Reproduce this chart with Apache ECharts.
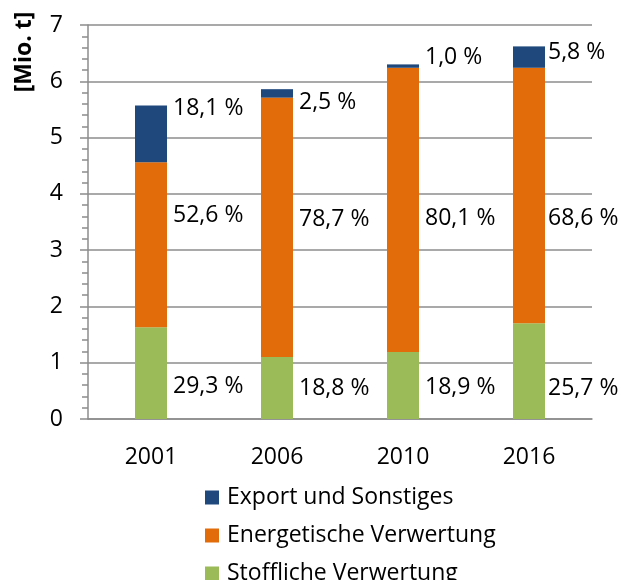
<!DOCTYPE html>
<html>
<head>
<meta charset="utf-8">
<script src="https://cdn.jsdelivr.net/npm/echarts@6/dist/echarts.min.js"></script>
<style>
  html, body { margin: 0; padding: 0; background: #fff; }
  #chart { width: 622px; height: 580px; }
</style>
</head>
<body>
<div id="chart"></div>
<script>
const jahre = ['2001', '2006', '2010', '2016']

// Mio. t
const stofflich = [1.63, 1.10, 1.19, 1.70]
const energetisch = [2.93, 4.61, 5.05, 4.54]
const export_ = [1.01, 0.15, 0.06, 0.38]

const pctStofflich = ['29,3 %', '18,8 %', '18,9 %', '25,7 %']
const pctEnergetisch = ['52,6 %', '78,7 %', '80,1 %', '68,6 %']
const pctExport = ['18,1 %', '2,5 %', '1,0 %', '5,8 %']

// Verschiebung der Beschriftungen (px)
const shiftX = [0, 0, 0, -3]
const shiftStofflich = [13, 0, 2, 17]
const shiftEnergetisch = [-29, -8, 9, 23]
const shiftExport = [-25, 9, -9, -5]

const schrift = '"Open Sans", sans-serif'
const grau = '#8c8c8c'

function serie(name, werte, pct, shift, farbe) {
    return {
        name: name,
        type: 'bar',
        stack: 'gesamt',
        barWidth: 32,
        itemStyle: { color: farbe },
        label: {
            show: true,
            position: 'right',
            distance: 6,
            fontFamily: schrift,
            fontSize: 23,
            color: '#000',
            formatter: (p) => pct[p.dataIndex]
        },
        data: werte.map((v, i) => ({ value: v, label: { offset: [shiftX[i], shift[i]] } }))
    }
}

const option = {
    animation: false,
    textStyle: { fontFamily: schrift },
    grid: { left: 88, right: 30, top: 25, bottom: 161 },
    legend: {
        orient: 'vertical',
        left: 200,
        top: 481,
        height: 140,
        itemWidth: 14,
        itemHeight: 14,
        itemGap: 15,
        icon: 'rect',
        textStyle: { fontFamily: schrift, fontSize: 23, color: '#000', padding: [0, 0, 0, 3] },
        data: ['Export und Sonstiges', 'Energetische Verwertung', 'Stoffliche Verwertung']
    },
    graphic: [{
        type: 'text',
        x: 24,
        y: 52,
        rotation: Math.PI / 2,
        style: {
            text: '[Mio. t]',
            fontFamily: schrift,
            fontWeight: 'bold',
            fontSize: 23,
            fill: '#000',
            align: 'center',
            verticalAlign: 'middle'
        }
    }],
    xAxis: {
        type: 'category',
        data: jahre,
        axisLine: { lineStyle: { color: grau, width: 1.5 } },
        axisTick: { show: false },
        axisLabel: { fontFamily: schrift, fontSize: 23, color: '#000', margin: 27 }
    },
    yAxis: {
        type: 'value',
        min: 0,
        max: 7,
        interval: 1,
        axisLine: { show: true, lineStyle: { color: grau, width: 1.5 } },
        axisTick: { show: true, length: 8, lineStyle: { color: grau, width: 1.5 } },
        minorTick: { show: true, splitNumber: 5, length: 6, lineStyle: { color: grau, width: 1.5 } },
        splitLine: { lineStyle: { color: grau, width: 1.5 } },
        axisLabel: { fontFamily: schrift, fontSize: 23, color: '#000', margin: 25 }
    },
    series: [
        serie('Stoffliche Verwertung', stofflich, pctStofflich, shiftStofflich, '#9BBB59'),
        serie('Energetische Verwertung', energetisch, pctEnergetisch, shiftEnergetisch, '#E36C0A'),
        serie('Export und Sonstiges', export_, pctExport, shiftExport, '#1F497D')
    ]
}

const chart = echarts.init(document.getElementById('chart'))
chart.setOption(option)
</script>
</body>
</html>
